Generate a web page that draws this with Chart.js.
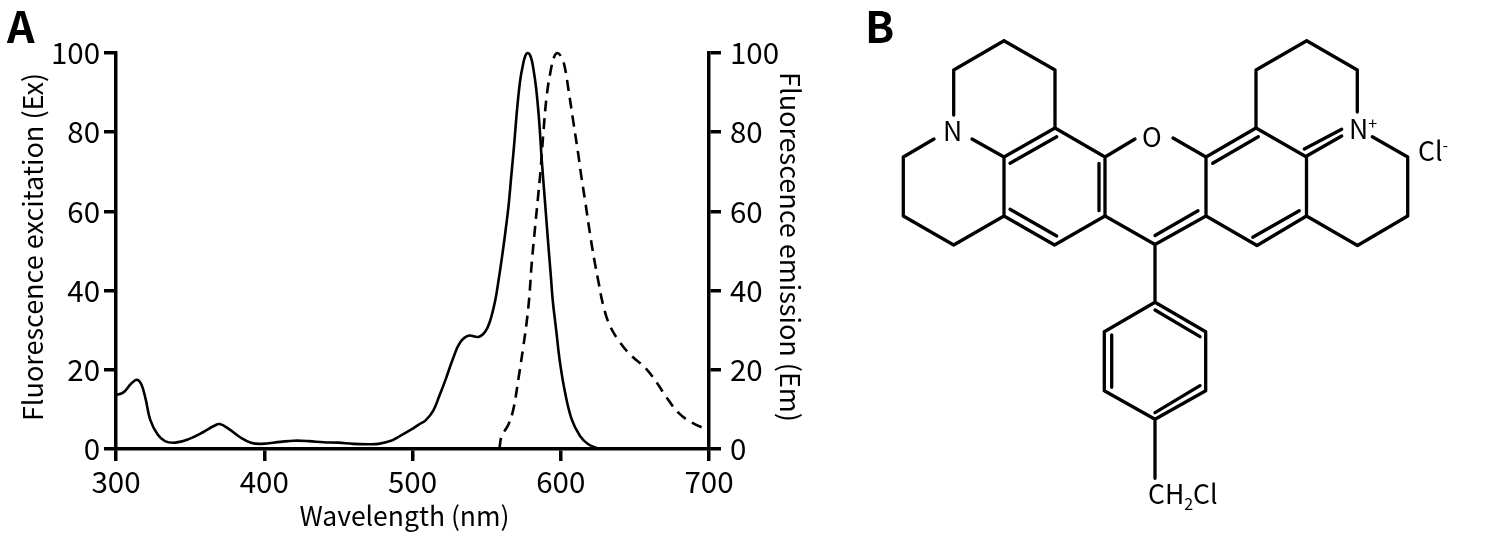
<!DOCTYPE html>
<html>
<head>
<meta charset="utf-8">
<title>Fluorescence spectra</title>
<script src="https://cdn.jsdelivr.net/npm/chart.js@4"></script>
<style>
html, body { margin: 0; padding: 0; background: #fff; }
#page { position: relative; width: 1500px; height: 546px; overflow: hidden; font-family: "Noto Sans CJK SC", "Noto Sans", sans-serif; color: #000; }
canvas { position: absolute; top: 0; }
#spectra { left: 0; }
#structure { left: 830px; }
.panel { position: absolute; font-weight: 700; font-size: 43px; line-height: 43px; }
.atom { position: absolute; font-size: 26.5px; line-height: 30px; white-space: nowrap; }
.atom sub, .atom sup { font-size: 16px; line-height: 0; }
</style>
</head>
<body>
<div id="page">
  <canvas id="spectra" width="830" height="546"></canvas>
  <canvas id="structure" width="670" height="546"></canvas>
  <div class="panel" style="left:7px;top:3px">A</div>
  <div class="panel" style="left:865px;top:3px">B</div>
  <div class="atom" style="left:943px;top:115px">N</div>
  <div class="atom" style="left:1142px;top:121px">O</div>
  <div class="atom" style="left:1349px;top:113px">N<sup>+</sup></div>
  <div class="atom" style="left:1418px;top:135px">Cl<sup>-</sup></div>
  <div class="atom" style="left:1148px;top:478px">CH<sub>2</sub>Cl</div>
</div>
<script>
'use strict';

const excitationNm = [300, 305, 310, 314, 317, 320, 323, 328, 333, 340, 349, 359, 366, 370, 376, 384, 391, 398, 411, 420, 430, 440, 450, 460, 470, 477, 485, 492, 499, 504, 509, 514, 518, 522, 527.6, 532.1, 537.7, 544.5, 549, 552.4, 555.8, 558, 560.2, 562.5, 564.7, 566.5, 568.6, 570.6, 572.6, 574.4, 576, 577.8, 579.8, 581.5, 583.4, 585.4, 587.2, 589.4, 591.6, 593.3, 594.6, 596.8, 599.5, 602.9, 607.4, 613, 618.6, 625.3];
const excitationValues = [13.6, 14.3, 16.4, 17.5, 16.4, 12.6, 7.5, 3.7, 2, 1.6, 2.5, 4.3, 5.8, 6.3, 5.1, 2.9, 1.6, 1.3, 1.8, 2.1, 2, 1.7, 1.6, 1.3, 1.2, 1.3, 2, 3.4, 4.9, 6.1, 7.3, 9.7, 13.3, 17.2, 23.1, 26.9, 28.6, 28.3, 29.6, 32.4, 37.5, 42.5, 48, 54.4, 61.1, 68.4, 77, 86, 93, 96.8, 99.2, 100, 99, 96.1, 91.1, 83, 72.9, 62.3, 51.6, 43.8, 37.5, 30.4, 21.8, 14.3, 7.5, 3.3, 1.2, 0.1];

const emissionNm = [558.6, 560.2, 564.7, 568, 571.4, 574.8, 577, 578.7, 580.4, 582.7, 584.9, 586.3, 588.3, 590.6, 593.3, 595.5, 597.7, 600.7, 602.9, 605.1, 608.5, 611.9, 613.7, 616.4, 619.7, 623, 625.3, 628.7, 633.2, 640, 647.8, 656.8, 664.7, 671.4, 679.3, 688.3, 698.4, 700];
const emissionValues = [0.1, 3.3, 6.2, 10, 17.6, 26, 32, 38, 46.8, 56, 64.5, 70, 80, 89.4, 95.7, 99, 100, 98.8, 96.1, 91, 82.6, 74.2, 69.3, 62.8, 54.4, 47, 42.5, 36.2, 31.1, 26.9, 23.5, 20.6, 16.8, 13, 9.2, 6.7, 5, 4.9];

const xLabel = 'Wavelength (nm)';
const exLabel = 'Fluorescence excitation (Ex)';
const emLabel = 'Fluorescence emission (Em)';

// liaisons de la molecule, [x1, y1, x2, y2]
const ringBonds = [
    [953.7, 70, 1004, 40.7], [1004, 40.7, 1055, 70], [1055, 70, 1055, 128],
    [953.7, 70, 953.7, 115], [1055, 128, 1004, 157], [1055, 128, 1105, 157],
    [1004, 157, 1004, 216], [1004, 216, 1054.5, 245], [1054.5, 245, 1105, 216],
    [1105, 157, 1105, 216], [1105, 157, 1135, 139], [1173, 138, 1206, 157],
    [1105, 216, 1155, 244.5], [1155, 244.5, 1206, 216], [1206, 157, 1206, 216],
    [1206, 157, 1256, 128], [1256, 128, 1256, 70], [1256, 70, 1306.7, 40.7],
    [1306.7, 40.7, 1357.3, 70], [1357.3, 70, 1357.3, 112], [1256, 128, 1306.5, 157],
    [1306.5, 157, 1306.5, 216], [1306.5, 216, 1257, 245.5], [1257, 245.5, 1206, 216],
    [1306.5, 216, 1357.5, 245.5], [1357.5, 245.5, 1407.7, 216], [1407.7, 216, 1407.7, 157],
    [1407.7, 157, 1372.3, 136.7], [1004, 157, 972, 139], [1004, 216, 953.7, 245],
    [953.7, 245, 903.3, 216], [903.3, 216, 903.3, 157], [903.3, 157, 934, 139],
    [1155, 244.5, 1155, 302.3], [1155, 302.3, 1205.7, 331.7], [1205.7, 331.7, 1205.7, 390.7],
    [1205.7, 390.7, 1155, 419.3], [1155, 419.3, 1104.3, 390.7], [1104.3, 390.7, 1104.3, 331.7],
    [1104.3, 331.7, 1155, 302.3], [1155, 419.3, 1155, 478.3]
];
const innerBonds = [
    [1010, 163.3, 1056.7, 136.7], [1099, 163.3, 1099, 210.7], [1010, 209.3, 1056.7, 236],
    [1155, 235.5, 1198, 210.7], [1212.7, 163.3, 1258.3, 136.7], [1252.7, 237.3, 1299.3, 210.7],
    [1306.7, 156, 1341.7, 136], [1304.3, 149, 1341.7, 129.3],
    [1155, 310, 1200, 336.7], [1111.7, 335, 1111.7, 387.3], [1155, 412.7, 1200, 385.7]
];

const fontFamily = '"Noto Sans CJK SC", "Noto Sans", sans-serif';

function toPoints(xs, ys) {
    return xs.map((x, i) => ({ x: x, y: ys[i] }));
}

// null entre deux segments pour couper la ligne
function bondsToPoints(bonds) {
    const points = [];
    bonds.forEach(b => {
        points.push({ x: b[0], y: b[1] }, { x: b[2], y: b[3] }, { x: null, y: null });
    });
    return points;
}

function axisStyle(title, titlePadding, tickPadding, titleSize) {
    return {
        border: { display: true, color: '#000', width: 3.5 },
        grid: { drawOnChartArea: false, drawTicks: true, tickLength: 12, color: '#000', lineWidth: 3.5 },
        ticks: { color: '#000', padding: tickPadding, font: { family: fontFamily, size: 29.5 }, maxRotation: 0, autoSkip: false },
        title: { display: true, text: title, color: '#000', padding: { top: titlePadding }, font: { family: fontFamily, size: titleSize } }
    };
}

// les titres ne sont pas tout a fait centres sur leur axe
function nudgeTitle(scale, dx, dy) {
    if (scale.titleNudged) {
        return;
    }
    scale.titleNudged = true;
    const drawTitle = scale.drawTitle;
    scale.drawTitle = function () {
        this.ctx.save();
        this.ctx.translate(dx, dy);
        drawTitle.call(this);
        this.ctx.restore();
    };
}

const xAxis = axisStyle(xLabel, 15, 3, 26.5);
xAxis.type = 'linear';
xAxis.min = 300;
xAxis.max = 700;
xAxis.ticks.stepSize = 100;
xAxis.afterFit = scale => {
    scale.height = 97;
    nudgeTitle(scale, -8, -10);
};

const exAxis = axisStyle(exLabel, 17, 4, 27);
exAxis.position = 'left';
exAxis.min = 0;
exAxis.max = 100;
exAxis.ticks.stepSize = 20;
exAxis.afterFit = scale => {
    scale.width = 116;
    nudgeTitle(scale, 0, -4);
};

const emAxis = axisStyle(emLabel, 24, 9, 27);
emAxis.position = 'right';
emAxis.min = 0;
emAxis.max = 100;
emAxis.ticks.stepSize = 20;
emAxis.afterFit = scale => {
    scale.width = 121;
    nudgeTitle(scale, 0, -4);
};

new Chart(document.getElementById('spectra'), {
    type: 'line',
    data: {
        datasets: [{
            label: 'Ex',
            data: toPoints(excitationNm, excitationValues),
            yAxisID: 'yEx',
            borderColor: '#000',
            borderWidth: 2.6,
            pointRadius: 0,
            tension: 0.4,
            clip: false
        }, {
            label: 'Em',
            data: toPoints(emissionNm, emissionValues),
            yAxisID: 'yEm',
            borderColor: '#000',
            borderWidth: 2.6,
            borderDash: [11, 7],
            pointRadius: 0,
            tension: 0.4,
            clip: false
        }]
    },
    options: {
        responsive: false,
        animation: false,
        layout: { padding: { top: 53, left: 0, right: 0, bottom: 0 } },
        plugins: { legend: { display: false }, tooltip: { enabled: false } },
        scales: { x: xAxis, yEx: exAxis, yEm: emAxis }
    }
});

new Chart(document.getElementById('structure'), {
    type: 'scatter',
    data: {
        datasets: [{
            data: bondsToPoints(ringBonds.concat(innerBonds)),
            showLine: true,
            spanGaps: false,
            borderColor: '#000',
            borderWidth: 3.3,
            borderCapStyle: 'round',
            pointRadius: 0,
            clip: false
        }]
    },
    options: {
        responsive: false,
        animation: false,
        layout: { padding: 0 },
        plugins: { legend: { display: false }, tooltip: { enabled: false } },
        scales: {
            x: { type: 'linear', min: 830, max: 1500, display: false },
            y: { type: 'linear', min: 0, max: 546, reverse: true, display: false }
        }
    }
});
</script>
</body>
</html>
